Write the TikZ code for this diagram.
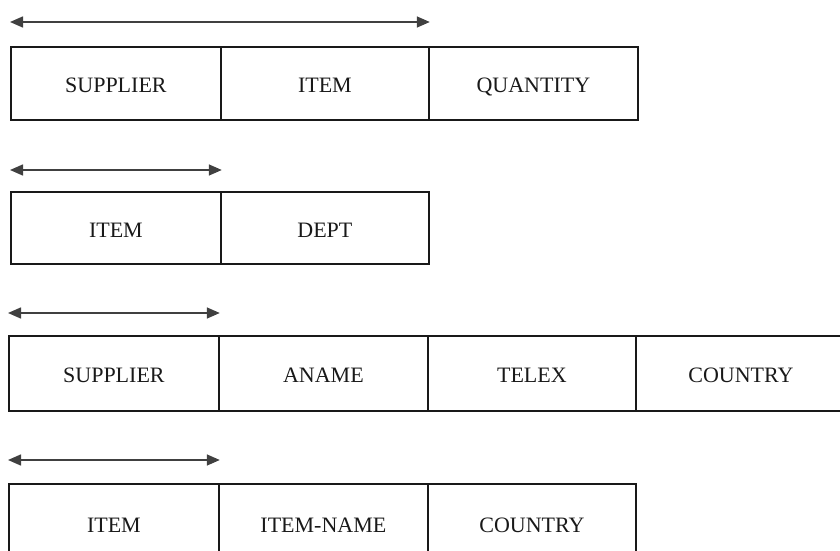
\documentclass[tikz,border=0pt]{standalone}
\usepackage{fontspec}
\setmainfont{Liberation Serif}
\usetikzlibrary{arrows.meta}
\begin{document}
\begin{tikzpicture}[x=1pt,y=-1pt,
  cell/.style={draw=black!90, line width=1.8pt, rectangle, anchor=north west, inner sep=0pt,
    minimum height=#1, text height=19pt, text depth=0pt,
    font=\fontsize{22}{25}\selectfont, text=black!90},
  keyarrow/.style={draw=black!75, line width=1.5pt, {Triangle[length=13pt,width=11pt]}-{Triangle[length=13pt,width=11pt]}}]
\useasboundingbox (0,0) rectangle (840,551);
\clip (0,0) rectangle (840,551);
% Row 1
\node[cell=73pt, minimum width=210pt] (r1a) at (10,46) {SUPPLIER};
\node[cell=73pt, minimum width=208pt] (r1b) at (220,46) {ITEM};
\node[cell=73pt, minimum width=209pt] (r1c) at (428,46) {QUANTITY};
\draw[keyarrow] ([yshift=24pt]r1a.north west) -- ([yshift=24pt]r1b.north east);
% Row 2
\node[cell=72pt, minimum width=210pt] (r2a) at (10,191) {ITEM};
\node[cell=72pt, minimum width=208pt] (r2b) at (220,191) {DEPT};
\draw[keyarrow] ([yshift=21pt]r2a.north west) -- ([yshift=21pt]r2a.north east);
% Row 3
\node[cell=75pt, minimum width=210pt] (r3a) at (8,335) {SUPPLIER};
\node[cell=75pt, minimum width=209pt] (r3b) at (218,335) {ANAME};
\node[cell=75pt, minimum width=208pt] (r3c) at (427,335) {TELEX};
\node[cell=75pt, minimum width=210pt] (r3d) at (635,335) {COUNTRY};
\draw[keyarrow] ([yshift=22pt]r3a.north west) -- ([yshift=22pt]r3a.north east);
% Row 4
\node[cell=78pt, minimum width=210pt] (r4a) at (8,483) {ITEM};
\node[cell=78pt, minimum width=209pt] (r4b) at (218,483) {ITEM-NAME};
\node[cell=78pt, minimum width=208pt] (r4c) at (427,483) {COUNTRY};
\draw[keyarrow] ([yshift=23pt]r4a.north west) -- ([yshift=23pt]r4a.north east);
\end{tikzpicture}
\end{document}
